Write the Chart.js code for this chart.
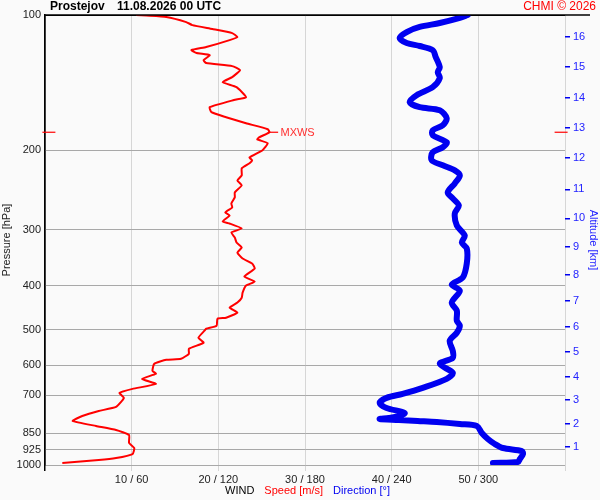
<!DOCTYPE html>
<html>
<head>
<meta charset="utf-8">
<title>Prostejov 11.08.2026 00 UTC</title>
<script src="https://cdn.jsdelivr.net/npm/chart.js@4.4.1/dist/chart.umd.min.js"></script>
<style>
    html, body { margin: 0; padding: 0; background: #fafafa; }
    #wrap { width: 600px; height: 500px; }
</style>
</head>
<body>
<div id="wrap"><canvas id="windChart" width="600" height="500"></canvas></div>
<script>
/* --- DATA --- */
// wind speed profile [hPa] -> [m/s]
const speedPressure = [100, 100.3, 101, 103.7, 105.3, 107.4, 109.7, 111.9, 113.7, 117.8, 119.7, 121.5, 122.8, 126.0, 127.9,
    129.9, 132.6, 137.4, 141.0, 144.7, 152.3, 154.5, 160.3, 164.4, 168.7, 174.0, 179.4, 182.2, 187.0, 189.0, 192.8,
    199.7, 207.2, 210.3, 213.6, 219.2, 227.2, 233.1, 239.1, 247.9, 254.3, 262.3, 267.7, 274.7, 278.9, 287.6, 290.6,
    298.1, 304.3, 312.2, 320.3, 328.6, 337.2, 347.7, 356.7, 366.0, 381.3, 391.2, 399.3, 414.0, 424.8, 435.6, 447.0,
    458.6, 470.6, 473.0, 490.3, 498.0, 503.0, 521.4, 535.0, 551.7, 566.0, 580.8,
    583.8, 596.0, 617.7, 627.2, 643.6, 660.3, 677.4, 691.5, 709.4, 742.9, 758.3, 778.1, 798.3, 819.0, 835.9, 857.7,
    893.5, 916.7, 945.4, 964.7, 974.8, 989.7];
const speedValues = [10.5, 11.7, 14.0, 16.3, 17.0, 19.3, 21.6, 22.2, 21.3, 18.6, 16.9, 17.5, 19.0, 18.3, 18.6,
    21.6, 22.5, 21.6, 20.5, 22.1, 23.2, 21.8, 19.0, 19.2, 20.9, 23.2, 25.7, 25.9, 24.7, 24.5, 25.7,
    25.1, 23.6, 23.9, 23.6, 22.7, 22.7, 22.2, 22.7, 21.9, 21.9, 21.5, 21.6, 20.8, 21.3, 20.5, 21.3,
    22.7, 21.5, 21.9, 22.1, 22.7, 22.2, 22.8, 23.9, 24.2, 23.0, 24.2, 23.2, 22.8, 22.7, 22.2, 21.3,
    22.2, 20.9, 19.9, 19.8, 18.6, 18.4, 17.7, 18.3, 16.6, 16.6, 15.7,
    14.0, 12.6, 12.4, 12.8, 11.2, 12.8, 10.1, 8.6, 9.1, 8.2, 6.2, 4.3, 3.2, 5.9, 8.2, 9.7,
    9.7, 10.3, 10.1, 8.2, 6.2, 2.0];

// wind direction profile [hPa] -> [deg]
const dirPressure = [100, 101.5, 104.2, 106.3, 109.1, 112.5, 115.4, 117.2, 119.7, 124.0, 130.6, 134.0, 138.1, 144.7,
    150.7, 156.2, 160.3, 162.8, 169.6, 175.8, 180.4, 185.0, 191.8, 196.8, 201.9, 210.3, 215.8, 221.4, 227.2,
    236.7, 247.9, 255.6, 265.0, 276.1, 293.6, 309.0, 320.3, 330.3, 356.7, 383.3, 397.3, 409.8, 435.6, 453.9,
    477.9, 490.3, 508.2, 529.5, 557.4, 577.8, 596.0, 624.1, 643.6, 673.9, 695.0, 709.4, 727.8, 746.8, 766.1,
    778.1, 786.1, 790.1, 794.2, 798.3, 802.4, 810.7, 819.0, 848.9, 875.4, 898.2, 916.7, 931.0, 945.4, 969.6,
    984.7, 989.7];
const dirValues = [292.7, 287.2, 273.3, 259.4, 250.4, 245.5, 250.4, 259.4, 268.4, 270.5, 273.3, 271.9, 273.3, 268.4,
    257.3, 252.5, 259.4, 273.3, 278.1, 275.4, 268.4, 268.4, 278.1, 275.4, 268.4, 267.7, 275.4, 283.7, 287.2,
    283.7, 278.8, 282.3, 286.5, 283.7, 285.1, 290.6, 288.6, 292.0, 292.0, 289.2, 281.6, 287.2, 281.6, 285.1,
    285.1, 287.2, 285.1, 280.2, 282.3, 282.3, 273.3, 282.3, 278.1, 261.5, 247.6, 236.5, 231.7, 236.5, 249.0,
    245.5, 238.0, 231.7, 245.0, 258.0, 271.2, 287.2, 299.0, 302.4, 306.6, 311.4, 317.0, 330.2, 330.9, 328.8,
    327.4, 310.1];

const pressureTicks = [100, 200, 300, 400, 500, 600, 700, 850, 925, 1000];
const speedTicks = [10, 20, 30, 40, 50];
const altitudeKm = [1, 2, 3, 4, 5, 6, 7, 8, 9, 10, 11, 12, 13, 14, 15, 16];
const altitudePressure = [912, 810, 716.5, 637, 560, 493, 431, 377.5, 327, 283, 244, 208, 178.5, 153, 130.5, 112];

const mxwsPressure = 182.2;
const mxwsSpeed = 25.9;

/* --- STYLE --- */
const FONT = '"Liberation Sans", Arial, sans-serif';
const RED = '#ff0000';
const BLUE = '#0000f0';

function toPoints(xs, ys) {
    return ys.map((p, i) => ({ x: xs[i], y: p }));
}

// titles, copyright and the WIND caption
const captionPlugin = {
    id: 'captions',
    afterDraw(chart) {
        const ctx = chart.ctx;
        const area = chart.chartArea;
        const xs = chart.scales.x;
        const ys = chart.scales.y;
        ctx.save();

        // top frame line runs past the altitude axis
        ctx.strokeStyle = '#000';
        ctx.lineWidth = 1.5;
        ctx.beginPath();
        ctx.moveTo(area.left, area.top);
        ctx.lineTo(chart.width - 10, area.top);
        ctx.stroke();

        ctx.textBaseline = 'middle';
        ctx.textAlign = 'left';
        ctx.fillStyle = '#000';
        ctx.font = `bold 12px ${FONT}`;
        ctx.fillText('Prostejov', 50, 7);
        ctx.fillText('11.08.2026 00 UTC', 117, 7);

        ctx.font = `12px ${FONT}`;
        ctx.fillStyle = RED;
        ctx.textAlign = 'right';
        ctx.fillText('CHMI © 2026', chart.width - 4, 7);

        // max wind label
        ctx.textAlign = 'left';
        ctx.font = `11px ${FONT}`;
        ctx.fillStyle = '#ff3030';
        ctx.fillText('MXWS', xs.getPixelForValue(mxwsSpeed) + 11, ys.getPixelForValue(mxwsPressure) + 1);

        // bottom caption
        const parts = [['WIND', '#000'], ['Speed [m/s]', RED], ['Direction [°]', BLUE]];
        let x = 225;
        parts.forEach(([txt, col]) => {
            ctx.fillStyle = col;
            ctx.fillText(txt, x, 491);
            x += ctx.measureText(txt).width + 10;
        });
        ctx.restore();
    }
};

const ctx = document.getElementById('windChart').getContext('2d');
new Chart(ctx, {
    type: 'scatter',
    data: {
        datasets: [
            {
                label: 'Direction',
                data: toPoints(dirValues, dirPressure),
                xAxisID: 'xd',
                yAxisID: 'y',
                showLine: true,
                borderColor: BLUE,
                borderWidth: 6,
                borderCapStyle: 'round',
                borderJoinStyle: 'round',
                pointRadius: 0,
                tension: 0.3
            },
            {
                label: 'Speed',
                data: toPoints(speedValues, speedPressure),
                xAxisID: 'x',
                yAxisID: 'y',
                showLine: true,
                borderColor: RED,
                borderWidth: 2,
                pointRadius: 0,
                tension: 0.15
            },
            // MXWS markers on both axes and the leader to the label
            {
                data: [{ x: -0.3, y: mxwsPressure }, { x: 1.2, y: mxwsPressure }],
                xAxisID: 'x', yAxisID: 'y', showLine: true, clip: false,
                borderColor: RED, borderWidth: 1.2, pointRadius: 0
            },
            {
                data: [{ x: 58.8, y: mxwsPressure }, { x: 60.3, y: mxwsPressure }],
                xAxisID: 'x', yAxisID: 'y', showLine: true, clip: false,
                borderColor: RED, borderWidth: 1.2, pointRadius: 0
            },
            {
                data: [{ x: mxwsSpeed, y: mxwsPressure }, { x: mxwsSpeed + 1, y: mxwsPressure }],
                xAxisID: 'x', yAxisID: 'y', showLine: true,
                borderColor: RED, borderWidth: 1.2, pointRadius: 0
            }
        ]
    },
    options: {
        responsive: false,
        animation: false,
        layout: { padding: { top: 15, right: 0, bottom: 0, left: 0 } },
        plugins: {
            legend: { display: false },
            tooltip: { enabled: false }
        },
        scales: {
            x: {
                type: 'linear',
                position: 'bottom',
                min: 0,
                max: 60,
                afterBuildTicks: (s) => { s.ticks = [0, ...speedTicks, 60].map(v => ({ value: v })); },
                afterFit: (s) => { s.height = 35; },
                border: { display: false },
                grid: {
                    color: (c) => (c.tick && c.tick.value === 0 ? '#000' : '#d6d6d6'),
                    lineWidth: (c) => (c.tick && c.tick.value === 0 ? 1.5 : 1),
                    tickLength: 6
                },
                ticks: {
                    autoSkip: false,
                    maxRotation: 0,
                    padding: 2,
                    color: '#222',
                    font: { family: FONT, size: 11 },
                    callback: (v) => (speedTicks.includes(v) ? `${v} / ${v * 6}` : '')
                }
            },
            xd: { type: 'linear', min: 0, max: 360, display: false },
            y: {
                type: 'logarithmic',
                position: 'left',
                reverse: true,
                min: 100,
                max: 1000,
                afterBuildTicks: (s) => { s.ticks = pressureTicks.map(v => ({ value: v })); },
                afterFit: (s) => { s.width = 45; },
                border: { display: true, color: '#000', width: 1.5 },
                grid: {
                    color: (c) => (c.tick && c.tick.value === 100 ? '#000' : '#a8a8a8'),
                    drawTicks: false
                },
                ticks: {
                    autoSkip: false,
                    padding: 4,
                    color: '#222',
                    font: { family: FONT, size: 11 },
                    callback: (v) => String(v)
                },
                title: {
                    display: true,
                    text: 'Pressure [hPa]',
                    color: '#222',
                    font: { family: FONT, size: 11 },
                    padding: 0
                }
            },
            alt: {
                type: 'logarithmic',
                position: 'right',
                reverse: true,
                min: 100,
                max: 1000,
                afterBuildTicks: (s) => { s.ticks = altitudePressure.map(v => ({ value: v })); },
                afterFit: (s) => { s.width = 35; },
                border: { display: false },
                grid: { drawOnChartArea: false, color: BLUE, lineWidth: 1.5, tickLength: 5 },
                ticks: {
                    autoSkip: false,
                    padding: 3,
                    color: '#2222ff',
                    font: { family: FONT, size: 11 },
                    callback: (v, i) => String(altitudeKm[i])
                },
                title: {
                    display: true,
                    text: 'Altitude [km]',
                    color: '#2222ff',
                    font: { family: FONT, size: 11 },
                    padding: 0
                }
            }
        }
    },
    plugins: [captionPlugin]
});
</script>
</body>
</html>
